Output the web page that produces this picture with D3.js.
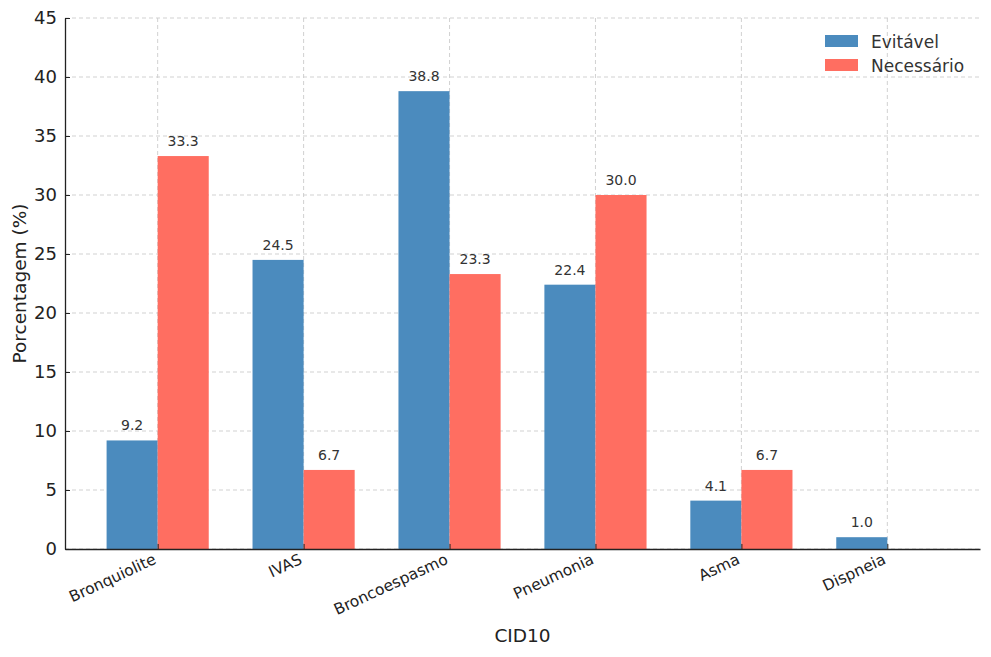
<!DOCTYPE html>
<html>
<head>
<meta charset="utf-8">
<script src="https://cdn.jsdelivr.net/npm/d3@7"></script>
<style>
  body { margin: 0; background: #fff; }
  text { font-family: "DejaVu Sans", sans-serif; }
</style>
</head>
<body>
<svg id="chart" width="991" height="657"></svg>
<script>
const categories = ["Bronquiolite", "IVAS", "Broncoespasmo", "Pneumonia", "Asma", "Dispneia"];
const evitavel = [9.2, 24.5, 38.8, 22.4, 4.1, 1.0];
const necessario = [33.3, 6.7, 23.3, 30.0, 6.7, 0];
const yTicks = [0, 5, 10, 15, 20, 25, 30, 35, 40, 45];
const seriesNames = ["Evitável", "Necessário"];
const colors = ["#4b8bbe", "#ff6e61"];

const svg = d3.select("#chart");
const margin = { left: 65, right: 11, top: 18, bottom: 108 };
const W = 991, H = 657;
const iw = W - margin.left - margin.right;
const ih = H - margin.top - margin.bottom;
const g = svg.append("g").attr("transform", `translate(${margin.left},${margin.top})`);

// matplotlib-like: index positions with 5% margins
const barW = 0.35;
const x = d3.scaleLinear()
    .domain([-barW - 0.285, categories.length - 1 + barW + 0.285])
    .range([0, iw]);
const y = d3.scaleLinear().domain([0, 45]).range([ih, 0]);

// grid
g.append("g").selectAll("line").data(yTicks).join("line")
    .attr("x1", 0).attr("x2", iw)
    .attr("y1", d => y(d)).attr("y2", d => y(d))
    .attr("stroke", "#cccccc").attr("stroke-dasharray", "4,3").attr("stroke-width", 0.9);
g.append("g").selectAll("line").data(categories).join("line")
    .attr("x1", (d, i) => x(i)).attr("x2", (d, i) => x(i))
    .attr("y1", 0).attr("y2", ih)
    .attr("stroke", "#cccccc").attr("stroke-dasharray", "4,3").attr("stroke-width", 0.9);

// bars
const series = [evitavel, necessario];
series.forEach((vals, s) => {
    const off = s === 0 ? -barW : 0;
    g.append("g").selectAll("rect").data(vals).join("rect")
        .attr("x", (d, i) => x(i + off))
        .attr("width", x(barW) - x(0))
        .attr("y", d => y(d))
        .attr("height", d => ih - y(d))
        .attr("fill", colors[s]);
    g.append("g").selectAll("text").data(vals).join("text")
        .filter(d => d > 0)
        .attr("x", (d, i) => x(i + off + barW / 2))
        .attr("y", d => y(d) - 10)
        .attr("text-anchor", "middle")
        .attr("font-size", 14)
        .attr("fill", "#333")
        .text(d => d.toFixed(1));
});

// axes
const yAxis = d3.axisLeft(y).tickValues(yTicks).tickSizeInner(-5).tickSizeOuter(0).tickPadding(8);
const yg = g.append("g").call(yAxis);
yg.select(".domain").attr("stroke", "#222").attr("stroke-width", 1.3);
yg.selectAll(".tick line").attr("stroke", "#222");
yg.selectAll(".tick text").attr("font-size", 18).attr("fill", "#222")
    .attr("font-family", "DejaVu Sans, sans-serif");

const xAxis = d3.axisBottom(x).tickValues(d3.range(categories.length))
    .tickFormat(i => categories[i]).tickSizeInner(-5).tickSizeOuter(0);
const xg = g.append("g").attr("transform", `translate(0,${ih})`).call(xAxis);
xg.select(".domain").attr("stroke", "#222").attr("stroke-width", 1.3);
xg.selectAll(".tick line").attr("stroke", "#222");
xg.selectAll(".tick text")
    .attr("font-size", 15.5).attr("fill", "#222")
    .attr("font-family", "DejaVu Sans, sans-serif")
    .attr("text-anchor", "end")
    .attr("y", 0).attr("dy", 0)
    .attr("transform", "translate(-1,14) rotate(-25)");

// axis titles
svg.append("text")
    .attr("x", margin.left + x(2.5)).attr("y", 642)
    .attr("text-anchor", "middle").attr("font-size", 18.5).attr("fill", "#222")
    .text("CID10");
svg.append("text")
    .attr("transform", `translate(26,${margin.top + ih / 2}) rotate(-90)`)
    .attr("text-anchor", "middle").attr("font-size", 18.5).attr("fill", "#222")
    .text("Porcentagem (%)");

// legend
const lg = svg.append("g").attr("transform", "translate(825,35)");
seriesNames.forEach((name, i) => {
    lg.append("rect").attr("x", 0).attr("y", i * 24).attr("width", 33).attr("height", 12)
        .attr("fill", colors[i]);
    lg.append("text").attr("x", 46).attr("y", i * 24 + 12.5)
        .attr("font-size", 17).attr("fill", "#333").text(name);
});
</script>
</body>
</html>
